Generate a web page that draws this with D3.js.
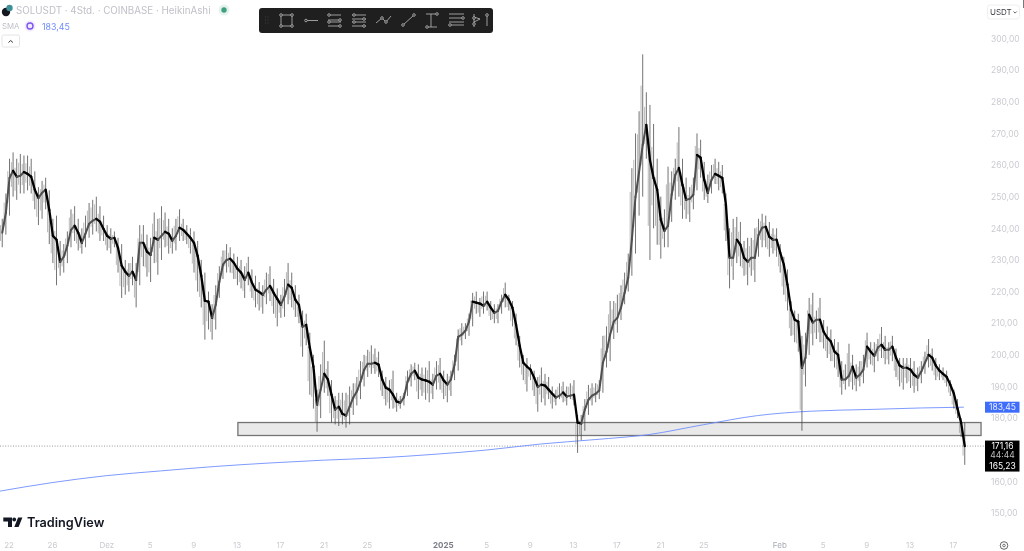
<!DOCTYPE html>
<html><head><meta charset="utf-8">
<script src="https://cdn.jsdelivr.net/npm/d3@7"></script>
<style>
html,body{margin:0;padding:0;background:#fff;overflow:hidden}
svg{display:block;font-family:Inter,"Liberation Sans",sans-serif;filter:blur(.3px)}
</style></head><body><svg id="c" width="1024" height="551"></svg>
<script>
// 8-hour samples
const firstBar = "2024-11-21T10:00:00Z";
const barHours = 8;
const closes = [
238.6,244.9,255.9,258.2,256.3,256.6,257.8,257.2,256.3,252.2,
249.6,251.2,252.2,245.8,237.6,236.4,229.4,231,234.5,239.5,
240.8,238.6,235.4,238.3,241.4,242.4,243,242.1,239.8,237.6,
236.7,237,233.8,228.2,226.3,225,226.3,223.7,235.4,235.4,
232.6,231.6,237,236.4,237.6,238.9,238.3,236.1,237.6,240.2,
239.5,238.3,237,235.4,231.3,225,217.1,216.8,211.7,215.8,
223.1,228.5,230,230.4,229.1,227.2,226,223.7,226,222.8,
220.6,219.9,219,220.6,221.8,219.6,217.7,215.8,218.4,222.2,
221.2,217.4,215.8,208.9,209.5,202.3,196.3,184.3,189,194,
192.2,187.4,182.7,183.6,181.4,180.8,183.6,186.5,188.4,191.5,
195.3,197.2,197.2,197.5,196.9,192.2,189.6,189,187.4,185.2,
184.9,186.5,191.5,194,195,192.8,192.2,191.9,191.5,190.6,
193.4,194,191.9,190.6,192.2,196.9,205.7,206.4,207.6,210.5,
216.8,216.5,216.2,215.5,216.8,214.9,213.3,213.9,216.8,219,
217.4,214.9,209.5,202.9,197.5,196.3,195.3,192.8,189.9,190.6,
190.3,189,187.7,186.5,187.1,188.1,186.8,187.1,187.4,178.6,
178.3,182.7,185.8,187.1,187.7,188.7,197.5,201,206.4,210.5,
211.7,214.9,219.6,224.4,236.4,249.9,257.8,266.4,272.7,261.6,
255.9,252.2,242.7,239.2,240.8,250.6,256.9,259.1,253.7,249,
249.3,250.6,263.2,262.3,255.3,251.2,255.3,257.2,256.6,255.9,
247.4,230.7,230.7,236.4,234.8,230.7,229.4,230.7,230.7,237.9,
240.2,240.5,237.3,236.4,236.4,232.3,228.5,222.2,214.3,211.1,
210.5,195.9,199.1,212.7,210.2,211.1,211.1,207.3,205.4,204.2,
201,200,192.2,192.2,193.4,196.3,192.8,193.7,195.3,202.6,
201,199.7,202.3,203.2,201.6,201.6,202.6,199.1,196.6,195.9,
195.9,195.3,193.7,192.8,194.7,197.5,200,199.1,196.6,195,
194,193,190.6,187.7,183,178.5,171.16];
const highs = [
243,251,262,264,262,263.5,263,263,262,258,
253,255,256,252,243,244,236,235,239,246,
247,243,240,244,248,249,250,247,244,241,
240,239,237,235,230,229,231,229,241,241,
238,237,245,243,247,245,243,240,243,246,
243,241,240,239,236,230,226,220,216,222,
228,233,235,234,232,231,230,228,231,227,
225,223,222,226,228,224,221,219,224,229,
226,222,219,214,213,207,200,189,197,204.5,
198,192,187,188,188,188,190,191,193,198,
200,201.6,203,202,201,195,193,192,195,188,
187,188,195,197,197.5,197,196,196,198,194,
198,199,195,194,195,200,208,210,210,213,
219.6,220,218,220,220,217,216,216,219,222.8,
219,217,213,206,200,199,197,195,193,196,
194,193,190,189,191,191.5,190,191,192,181,
181,186,190.5,191,191,192,206,209,217,217,
219,222,226,232,259,270,277,295,283,279,
273,262,250,246,259.5,258,262,272,262,256,
253,256,270,268,261,257,260,262,261,260,
251,240,243,243.6,242,236,237,237,240,243,
244.6,244,242,240,240,235,231,227,217,214,
213,206,207,218,219.6,214,218,211,209,208,
205,204,198,197,203.5,200,197,198,200,207,
204,204,205,208.8,206,204,206,202,199,199,
199,199,198,196,198,201,205,202,199,197,
196,195,192,189,186,180,178.5];
const lows = [
234,238,244,250,249,251,251,252,251,246,
241,243,246,235,229,222,225,226,229,234,
236,233,232,234,237,238,239,236,236,233,
232,234,226,218,219,220,222,215,222,228,
224.7,223,229,225.3,230,234,232,232,233,236,
236,235,232,226,220,215,204.8,208,204.8,208,
218,224,226,226,224,222,221,218,222,218,
215,214,213,216,217,213,209,211.7,212,216,
215,212,210,199.4,203,187.4,183,175.7,180,188,
187,178.6,178,177.5,178,177,178,181,184,186,
190,193,194,194,193,187,184,183,183,182,
183,184,187,190,192,186,187,185.8,185,186,
189,189,186,185,187,192,195,203,205,206,
209,213,212,213,214,211,210,210,213,215,
214,209,203,196,192,188.4,192,187,182,185,
184,186,183,184,186,185,184,186,184,169,
173,176,181,184,185,186,188,196,198,205,
207,211,216,220,225,232,244,250,262,230,
240,234.8,230.4,234,234,242,249,250,243,243,
242,246,252,256,249,248,251,254,252,251,
236,221,223.7,229,228,225,222,225,223,231,
234,234,231,232,231,226,219,214,206,204,
201,176,190,200,203,205,204,202,199,198,
196,193,187.4,189,190,189,188.5,190,191,196,
197,194.5,198,199,197,197,198,193,190,189,
191,189.5,188,188.5,191,194,196,195,192,192,
192,190,187,183,180,174,165.23];
const smaDates = ["2024-11-21","2024-11-26","2024-12-01","2024-12-06","2024-12-11","2024-12-16","2024-12-21","2024-12-26","2024-12-31","2025-01-05","2025-01-10","2025-01-15","2025-01-20","2025-01-25","2025-01-30","2025-02-04","2025-02-09","2025-02-14","2025-02-18"];
const smaValues = [156.8,159.6,161.8,163.3,164.7,165.8,166.7,167.4,168.5,169.9,171.8,173.2,174.8,177.9,180.8,182.2,182.7,183.2,183.45];
const priceTicks = [150,160,180,190,200,210,220,230,240,250,260,270,280,290,300];
const timeDates = ["2024-11-22","2024-11-26","2024-12-01","2024-12-05","2024-12-09","2024-12-13","2024-12-17","2024-12-21","2024-12-25","2025-01-01","2025-01-05","2025-01-09","2025-01-13","2025-01-17","2025-01-21","2025-01-25","2025-02-01","2025-02-05","2025-02-09","2025-02-13","2025-02-17"];
const timeLabels = ["22","26","Dez","5","9","13","17","21","25","2025","5","9","13","17","21","25","Feb","5","9","13","17"];
const zone = {from:"2024-12-13T03:00:00Z", to:"2025-02-19T14:00:00Z", top:178.6, bottom:174.5};
const lastPrice = 171.16, lastLow = 165.23, smaLast = 183.45, countdown = "44:44";
const title = "SOLUSDT · 4Std. · COINBASE · HeikinAshi";

const comma = v => d3.format(".2f")(v).replace(".", ",");
const svg = d3.select("#c");
const y = d3.scaleLinear().domain([150,300]).range([513,38.5]);
const x = d3.scaleUtc().domain([new Date("2024-11-26T00:00:00Z"),new Date("2025-02-17T00:00:00Z")]).range([52,953]);
const t0 = +new Date(firstBar);
const bars = closes.map((c,i)=>({d:new Date(t0+i*barHours*3600e3),p:new Date(t0+(i-1)*barHours*3600e3),c,h:highs[i],l:lows[i],o:i?closes[i-1]:c}));

svg.append("defs").append("clipPath").attr("id","plot").append("rect").attr("width",985).attr("height",551);
const plot = svg.append("g").attr("clip-path","url(#plot)");

// zone
plot.append("rect")
  .attr("x",x(new Date(zone.from))).attr("width",x(new Date(zone.to))-x(new Date(zone.from)))
  .attr("y",y(zone.top)).attr("height",y(zone.bottom)-y(zone.top))
  .attr("fill","#e9e9e9").attr("stroke","#747474").attr("stroke-width",1.3);

// last price line
plot.append("line").attr("x1",0).attr("x2",985).attr("y1",y(lastPrice)).attr("y2",y(lastPrice))
  .attr("stroke","#8c8c8c").attr("stroke-width",.9).attr("stroke-dasharray","1 1.6");

// SMA
plot.append("path").datum(smaValues.map((v,i)=>[new Date(smaDates[i]+"T00:00:00Z"),v]))
  .attr("fill","none").attr("stroke","#6f8fff").attr("stroke-width",.9)
  .attr("d",d3.line().x(d=>x(d[0])).y(d=>y(d[1])).curve(d3.curveMonotoneX));

// candles
const g = plot.selectAll("g.bar").data(bars).join("g").attr("class","bar");
g.append("line").attr("x1",d=>x(d.d)).attr("x2",d=>x(d.d)).attr("y1",d=>y(d.h)).attr("y2",d=>y(d.l))
  .attr("stroke","#3c3c3c").attr("stroke-width",.9).attr("opacity",.8);
g.append("line").attr("x1",d=>x(d.d)-1.7).attr("x2",d=>x(d.d)-1.7).attr("y1",d=>y(d.h-(d.h-d.l)*.22)).attr("y2",d=>y(d.l+(d.h-d.l)*.22))
  .attr("stroke","#8a8a8a").attr("stroke-width",1).attr("opacity",.6);
plot.selectAll("line.body").data(bars.slice(1)).join("line").attr("class","body")
  .attr("x1",d=>x(d.p)).attr("x2",d=>x(d.d)).attr("y1",d=>y(d.o)).attr("y2",d=>y(d.c))
  .attr("stroke",d=>d.c>=d.o?"#4f4f4f":"#000").attr("stroke-width",d=>d.c>=d.o?2:2.3).attr("stroke-linecap","round");

// axes
const yAxis = d3.axisRight(y).tickValues(priceTicks).tickSize(0).tickPadding(0).tickFormat(comma);
const ya = svg.append("g").attr("transform","translate(991,0)").call(yAxis);
ya.select(".domain").remove();
ya.selectAll("text").attr("fill","#c9cbd1").attr("font-size",8.5).attr("font-family","Inter");

const xAxis = d3.axisBottom(x).tickValues(timeDates.map(d=>new Date(d+"T00:00:00Z"))).tickSize(0).tickPadding(0).tickFormat((d,i)=>timeLabels[i]);
const xa = svg.append("g").attr("transform","translate(0,542)").call(xAxis);
xa.select(".domain").remove();
xa.selectAll("text").attr("fill",(d,i)=>timeLabels[i]==="2025"?"#787b84":timeLabels[i]==="Feb"?"#a8abb3":"#c9cbd1")
  .attr("font-weight",(d,i)=>timeLabels[i]==="2025"?700:400).attr("font-size",8).attr("font-family","Inter");

// price labels
svg.append("rect").attr("x",985).attr("y",y(smaLast)-5.5).attr("width",34.5).attr("height",11).attr("fill","#3f6dfb");
svg.append("text").attr("x",1002.5).attr("y",y(smaLast)+3).attr("text-anchor","middle").attr("fill","#e8edff").attr("font-size",8.5).text(comma(smaLast));
svg.append("rect").attr("x",985).attr("y",y(lastPrice)-5.5).attr("width",34.5).attr("height",31).attr("fill","#000");
svg.append("text").attr("x",1002.5).attr("y",y(lastPrice)+3).attr("text-anchor","middle").attr("fill","#fff").attr("font-size",8.5).text(comma(lastPrice));
svg.append("text").attr("x",1002.5).attr("y",y(lastPrice)+12).attr("text-anchor","middle").attr("fill","#bdbdbd").attr("font-size",8.5).text(countdown);
svg.append("text").attr("x",1002.5).attr("y",y(lastPrice)+23).attr("text-anchor","middle").attr("fill","#fff").attr("font-size",8.5).text(comma(lastLow));

// currency button
svg.append("rect").attr("x",987.5).attr("y",5).attr("width",32).attr("height",14).attr("rx",2.5).attr("fill","#fff").attr("stroke","#eeeeee");
svg.append("text").attr("x",990).attr("y",15).attr("fill","#3c3f46").attr("font-size",8).text("USDT");
svg.append("path").attr("d","M1013.5 11.5l1.6 1.6 1.6-1.6").attr("fill","none").attr("stroke","#555").attr("stroke-width",.9);
svg.append("line").attr("x1",1023.5).attr("x2",1023.5).attr("y1",0).attr("y2",8).attr("stroke","#555").attr("stroke-width",.8);

// header
svg.append("circle").attr("cx",6).attr("cy",12).attr("r",4.2).attr("fill","#15191f");
svg.append("circle").attr("cx",9.5).attr("cy",8).attr("r",3.2).attr("fill","#3f8f96");
svg.append("text").attr("x",16).attr("y",14).attr("fill","#bfc1c8").attr("font-size",9.8).text(title);
svg.append("circle").attr("cx",224).attr("cy",10).attr("r",5.5).attr("fill","#e6f2ee");
svg.append("circle").attr("cx",224).attr("cy",10).attr("r",2.7).attr("fill","#3f9f80");
svg.append("text").attr("x",2).attr("y",29).attr("fill","#bfc1c8").attr("font-size",7.8).text("SMA");
svg.append("circle").attr("cx",30).attr("cy",26).attr("r",5.5).attr("fill","#f0ebff");
svg.append("circle").attr("cx",30).attr("cy",26).attr("r",3).attr("fill","none").attr("stroke","#7e55f0").attr("stroke-width",1.4);
svg.append("text").attr("x",42).attr("y",29.5).attr("fill","#6f8cff").attr("font-size",8.8).text(comma(smaLast));
svg.append("rect").attr("x",2).attr("y",35).attr("width",17.5).attr("height",12).attr("rx",1.5).attr("fill","#fff").attr("stroke","#e4e4e4");
svg.append("path").attr("d","M8.5 42.5l2.2-2 2.2 2").attr("fill","none").attr("stroke","#333").attr("stroke-width",1);

// toolbar
const tb = svg.append("g");
tb.append("rect").attr("x",259).attr("y",8).attr("width",234).attr("height",25).attr("rx",3).attr("fill","#1f1f1f");
const ic = tb.append("g").attr("fill","none").attr("stroke","#bdbdbd").attr("stroke-width",.8);
[[265.5,17],[265.5,20],[265.5,23],[268,17],[268,20],[268,23]].forEach(p=>tb.append("circle").attr("cx",p[0]).attr("cy",p[1]).attr("r",.45).attr("fill","#666"));
const seg=(a,b,c,d)=>ic.append("line").attr("x1",a).attr("y1",b).attr("x2",c).attr("y2",d);
const dot=(a,b)=>ic.append("circle").attr("cx",a).attr("cy",b).attr("r",1.3).attr("fill","#1f1f1f");
seg(281,15,292,15);seg(292,15,292,26);seg(292,26,281,26);seg(281,26,281,15);[[281,15],[292,15],[281,26],[292,26]].forEach(p=>dot(...p));
seg(306,20.5,318,20.5);dot(306,20.5);
[15,20,22,26].forEach((v,i)=>{seg(328,v,341,v);dot(i%2?340:329,v);});
[15,19,22,26].forEach((v,i)=>{seg(352,v,366,v);dot(i%2?364:354,v);});
seg(376,23,382,18);seg(382,18,386,22);seg(386,22,391,16);dot(382,18);dot(386,22);
seg(403,25,414,15);dot(403,25);dot(414,15);
seg(426,14,437,14);seg(426,27,437,27);seg(431,14,431,27);dot(437,14);dot(427,27);
[14,18,22,25].forEach(v=>seg(449,v,464,v));dot(463,18);dot(450,25);
seg(474,14,474,27);seg(474,17,480,19);seg(474,22,480,19);dot(474,18);dot(474,24);
seg(487,15,487,26);dot(487,15);

// logo
const lg = svg.append("g").attr("fill","#131722");
lg.append("path").attr("d","M3.3 517.5h8.7v9.5h-4v-5.5H3.3z");
lg.append("circle").attr("cx",14.2).attr("cy",519.5).attr("r",1.9);
lg.append("path").attr("d","M14.3 527l3.8-9.5h4.3l-3.8 9.5z");
lg.append("text").attr("x",27).attr("y",527).attr("font-size",12.7).attr("font-weight",600).attr("font-family","Inter").text("TradingView");

// settings gear
svg.append("circle").attr("cx",1004).attr("cy",545.5).attr("r",3.8).attr("fill","none").attr("stroke","#555").attr("stroke-width",.9);
svg.append("circle").attr("cx",1004).attr("cy",545.5).attr("r",1.3).attr("fill","none").attr("stroke","#555").attr("stroke-width",.8);
</script></body></html>
